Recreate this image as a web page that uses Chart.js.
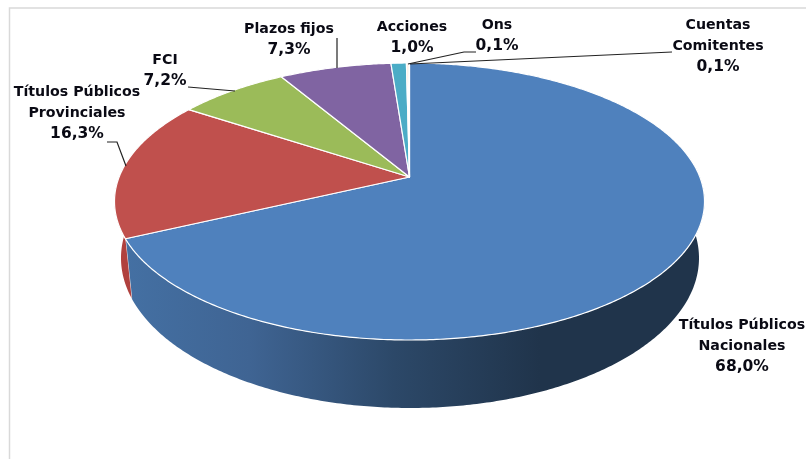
<!DOCTYPE html>
<html>
<head>
<meta charset="utf-8">
<title>Cartera</title>
<script src="https://cdn.jsdelivr.net/npm/chart.js@4"></script>
<style>
  html, body { margin: 0; padding: 0; background: #fff; }
  canvas { display: block; filter: blur(0.35px); }
</style>
</head>
<body>
<canvas id="chartCartera" width="806" height="459"></canvas>
<script>
  const categories = [
    ['Títulos Públicos', 'Nacionales'],
    ['Títulos Públicos', 'Provinciales'],
    ['FCI'],
    ['Plazos fijos'],
    ['Acciones'],
    ['Ons'],
    ['Cuentas', 'Comitentes']
  ];
  const shares = [68.0, 16.3, 7.2, 7.3, 1.0, 0.1, 0.1];
  const sliceColors = ['#4F81BD', '#C0504D', '#9BBB59', '#8064A2', '#4BACC6', '#F79646', '#FBE3CF'];

  // label centre x and first line y, same order as categories
  const labelX = [742, 77, 165, 289, 412, 497, 718];
  const labelY = [325, 92, 60, 29, 27, 25, 25];
  const lineGap = 21;

  // leader lines, label end first
  const leaders = [
    null,
    [[107, 142], [117, 142], [126, 166]],
    [[188, 87], [235, 91]],
    [[337, 38], [337, 68]],
    null,
    [[476, 52], [464, 52], [408, 64]],
    [[672, 52], [410, 64]]
  ];

  // top face and bottom rim of the tilted pie
  const top3d = { cx: 409.5, cy: 201.5, rx: 295, ry: 138.5 };
  const bottom3d = { cx: 410, cy: 258, rx: 289, ry: 150 };
  const persp = -0.177; // moves the apex up from the ellipse centre

  function project(face, angle) {
    const u = Math.cos(angle);
    const v = Math.sin(angle);
    const w = 1 + persp * v;
    return {
      x: face.cx + face.rx * u * Math.sqrt(1 - persp * persp) / w,
      y: face.cy + face.ry * (v + persp) / w
    };
  }

  function steps(a0, a1) {
    const out = [];
    const n = Math.max(2, Math.ceil((a1 - a0) / 0.01));
    for (let i = 0; i <= n; i++) out.push(a0 + (a1 - a0) * i / n);
    return out;
  }

  function drawWall(ctx, arc, i) {
    const a0 = Math.max(arc.startAngle, -0.09);
    const a1 = Math.min(arc.endAngle, Math.PI + 0.09);
    if (a1 <= a0) return;
    const angles = steps(a0, a1);
    ctx.beginPath();
    angles.forEach((a, k) => {
      const p = project(top3d, a);
      k ? ctx.lineTo(p.x, p.y) : ctx.moveTo(p.x, p.y);
    });
    angles.slice().reverse().forEach(a => {
      const p = project(bottom3d, a);
      ctx.lineTo(p.x, p.y);
    });
    ctx.closePath();
    if (i === 0) {
      const g = ctx.createLinearGradient(125, 0, 540, 0);
      g.addColorStop(0, '#4470A3');
      g.addColorStop(0.3, '#3F6493');
      g.addColorStop(0.65, '#2C4868');
      g.addColorStop(1, '#20344B');
      ctx.fillStyle = g;
    } else {
      ctx.fillStyle = '#B0413E';
    }
    ctx.fill();
    // white seam at the slice edge
    if (i === 0) {
      const p = project(top3d, a1);
      const q = project(bottom3d, a1);
      ctx.strokeStyle = 'rgba(255,255,255,0.8)';
      ctx.lineWidth = 1;
      ctx.beginPath();
      ctx.moveTo(p.x, p.y);
      ctx.lineTo(q.x, q.y);
      ctx.stroke();
    }
  }

  function drawFace(ctx, arc) {
    const opts = arc.options;
    const apex = { x: top3d.cx, y: top3d.cy + top3d.ry * persp };
    ctx.beginPath();
    ctx.moveTo(apex.x, apex.y);
    steps(arc.startAngle, arc.endAngle).forEach(a => {
      const p = project(top3d, a);
      ctx.lineTo(p.x, p.y);
    });
    ctx.closePath();
    ctx.fillStyle = opts.backgroundColor;
    ctx.fill();
    ctx.strokeStyle = opts.borderColor;
    ctx.lineWidth = opts.borderWidth;
    ctx.lineJoin = 'round';
    ctx.stroke();
  }

  const tiltedPie = {
    id: 'tiltedPie',
    beforeDatasetDraw(chart) {
      const ctx = chart.ctx;
      const arcs = chart.getDatasetMeta(0).data;
      ctx.save();
      arcs.forEach((arc, i) => { if (i < 2) drawWall(ctx, arc, i); });
      arcs.forEach(arc => drawFace(ctx, arc));
      ctx.restore();
      return false; // the library's flat circle is replaced by the tilted one
    },
    afterDraw(chart) {
      const ctx = chart.ctx;
      ctx.save();

      // plot frame
      ctx.strokeStyle = '#D9D9D9';
      ctx.lineWidth = 1.5;
      ctx.beginPath();
      ctx.moveTo(9.5, 459);
      ctx.lineTo(9.5, 8);
      ctx.lineTo(806, 8);
      ctx.stroke();

      // leader lines
      ctx.strokeStyle = '#222';
      ctx.lineWidth = 1.2;
      leaders.forEach(pts => {
        if (!pts) return;
        ctx.beginPath();
        pts.forEach((p, k) => k ? ctx.lineTo(p[0], p[1]) : ctx.moveTo(p[0], p[1]));
        ctx.stroke();
      });

      // labels, the percentage line runs a little wider
      ctx.fillStyle = '#0A0A14';
      ctx.textAlign = 'center';
      ctx.textBaseline = 'middle';
      categories.forEach((lines, i) => {
        ctx.font = 'bold 14.2px "DejaVu Sans", sans-serif';
        lines.forEach((t, k) => ctx.fillText(t, labelX[i], labelY[i] + k * lineGap));
        ctx.font = 'bold 15.5px "DejaVu Sans", sans-serif';
        ctx.fillText(shares[i].toFixed(1).replace('.', ',') + '%', labelX[i], labelY[i] + lines.length * lineGap);
      });
      ctx.restore();
    }
  };

  new Chart(document.getElementById('chartCartera').getContext('2d'), {
    type: 'pie',
    data: {
      labels: categories.map(c => c.join(' ')),
      datasets: [{
        data: shares,
        backgroundColor: sliceColors,
        borderColor: '#FFFFFF',
        borderWidth: 1.2
      }]
    },
    options: {
      responsive: false,
      animation: false,
      plugins: { legend: { display: false }, tooltip: { enabled: false } }
    },
    plugins: [tiltedPie]
  });
</script>
</body>
</html>
